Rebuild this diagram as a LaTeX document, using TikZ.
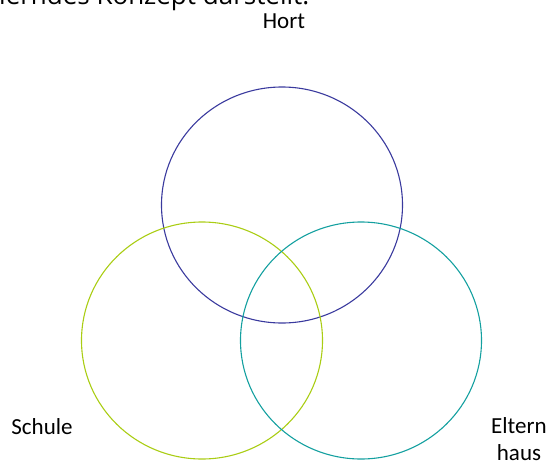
\documentclass[tikz,border=0pt]{standalone}
\usepackage{fontspec}
\setmainfont{Carlito}
\newfontfamily\introfont{Open Sans}
\usetikzlibrary{positioning}
\definecolor{hortblue}{RGB}{58,58,158}
\definecolor{schulegreen}{RGB}{170,205,20}
\definecolor{elternteal}{RGB}{20,160,160}
\tikzset{
	labeltext/.style={font=\fontsize{23}{27}\selectfont, inner sep=0pt, anchor=base},
	ring/.style={line width=1.1pt}
}

\begin{document}
\begin{tikzpicture}[x=1pt,y=-1pt]
	\useasboundingbox (0,0) rectangle (549,464);
	\node[anchor=base west, inner sep=0pt, font=\introfont\fontsize{26}{31}\selectfont] (intro) at (-1,4) {ierndes Konzept darstellt.};

	\coordinate (H) at (282,205);
	\coordinate (S) at (202,340.5);
	\coordinate (E) at (361,340.5);
	\draw[ring, hortblue] (H) ellipse (120.5 and 118);
	\draw[ring, schulegreen] (S) ellipse (120.5 and 118.5);
	\draw[ring, elternteal] (E) ellipse (120.5 and 118.5);

	\node[labeltext] (hort) at (284,28) {Hort};
	\node[labeltext] (schule) at (42,434) {Schule};
	\node[labeltext] (eltern) at (519,433) {Eltern};
	\node[labeltext] (haus) at (519,460) {haus};
\end{tikzpicture}
\end{document}
